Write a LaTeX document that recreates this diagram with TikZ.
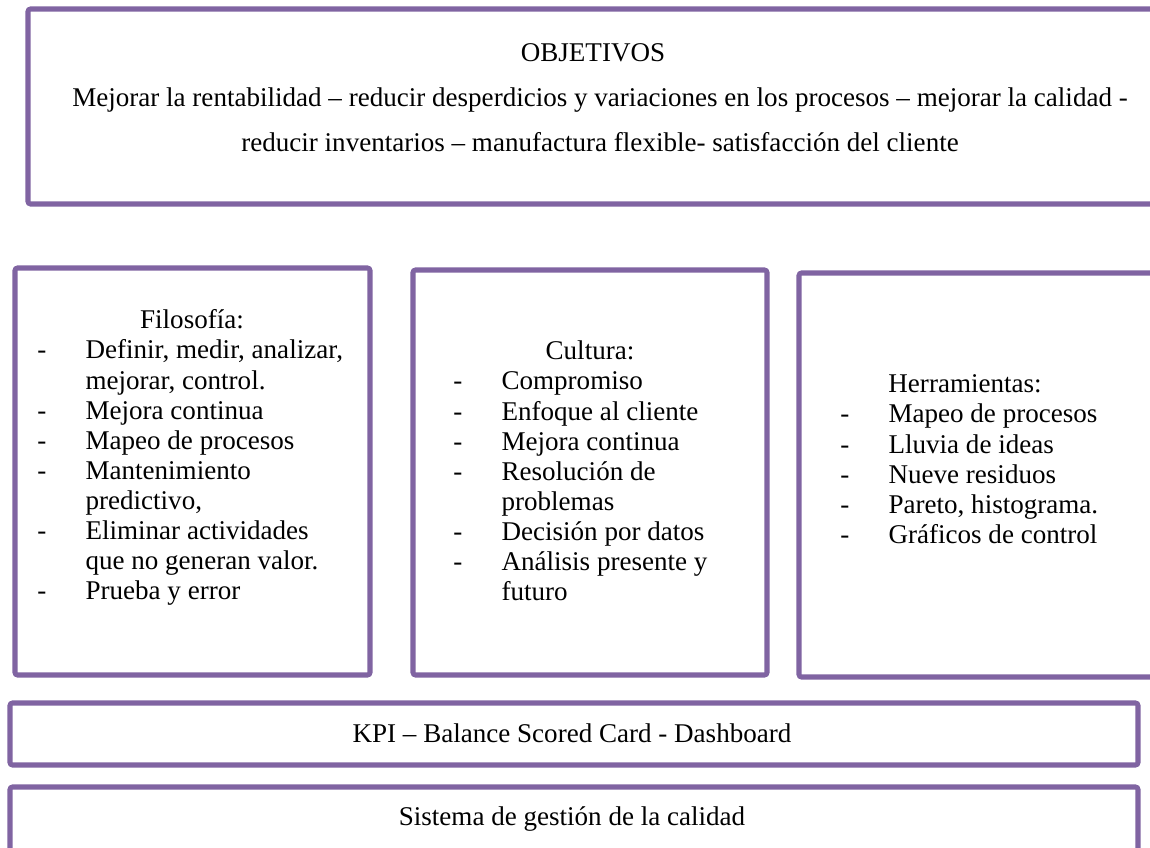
\documentclass[tikz,border=0pt]{standalone}
\usepackage{fontspec}
\setmainfont{Liberation Serif}
\usetikzlibrary{fit}
\definecolor{boxpurple}{HTML}{8064A2}
\begin{document}
\begin{tikzpicture}[x=0.4528pt,y=-0.4528pt,
  frame/.style={draw=boxpurple, line width=2.3pt, rounded corners=1.2pt,
    inner sep=0pt, fill=none},
  txt/.style={inner sep=0pt, font=\fontsize{12.25}{13.6}\selectfont},
  list/.style={txt, anchor=base west}]
\useasboundingbox (0,0) rectangle (1150,848);

% frames
\node[frame, fit={(28,9) (1205,204)}] (objbox) {};
\node[frame, fit={(15,268) (370,675)}] (filobox) {};
\node[frame, fit={(413,270) (767,675)}] (cultbox) {};
\node[frame, fit={(799,273) (1205,677)}] (herrbox) {};
\node[frame, fit={(10,703) (1138,765)}] (kpibox) {};
\node[frame, fit={(10,787) (1138,855)}] (sgcbox) {};

% objectives
\node[txt, anchor=base] (objtitle) at (593,62) {OBJETIVOS};
\node[txt, anchor=base] (objline1) at (600,107) {Mejorar la rentabilidad – reducir desperdicios y variaciones en los procesos – mejorar la calidad -};
\node[txt, anchor=base] (objline2) at (600,152) {reducir inventarios – manufactura flexible- satisfacción del cliente};

% philosophy
\node[txt, anchor=base] (filotitle) at (192,329) {Filosofía:};
\node[list] (filolist) at (37,359) {\begin{tabular}[t]{@{}p{21.8pt}@{}l@{}}
- & Definir, medir, analizar,\\
  & mejorar, control.\\
- & Mejora continua\\
- & Mapeo de procesos\\
- & Mantenimiento\\
  & predictivo,\\
- & Eliminar actividades\\
  & que no generan valor.\\
- & Prueba y error
\end{tabular}};

% culture
\node[txt, anchor=base] (culttitle) at (590,360) {Cultura:};
\node[list] (cultlist) at (453,390) {\begin{tabular}[t]{@{}p{21.8pt}@{}l@{}}
- & Compromiso\\
- & Enfoque al cliente\\
- & Mejora continua\\
- & Resolución de\\
  & problemas\\
- & Decisión por datos\\
- & Análisis presente y\\
  & futuro
\end{tabular}};

% tools
\node[txt, anchor=base west] (herrtitle) at (888,393) {Herramientas:};
\node[list] (herrlist) at (840,423) {\begin{tabular}[t]{@{}p{21.8pt}@{}l@{}}
- & Mapeo de procesos\\
- & Lluvia de ideas\\
- & Nueve residuos\\
- & Pareto, histograma.\\
- & Gráficos de control
\end{tabular}};

% bottom bands
\node[txt, anchor=base] (kpitext) at (572,742) {KPI – Balance Scored Card - Dashboard};
\node[txt, anchor=base] (sgctext) at (572,825) {Sistema de gestión de la calidad};
\end{tikzpicture}
\end{document}
